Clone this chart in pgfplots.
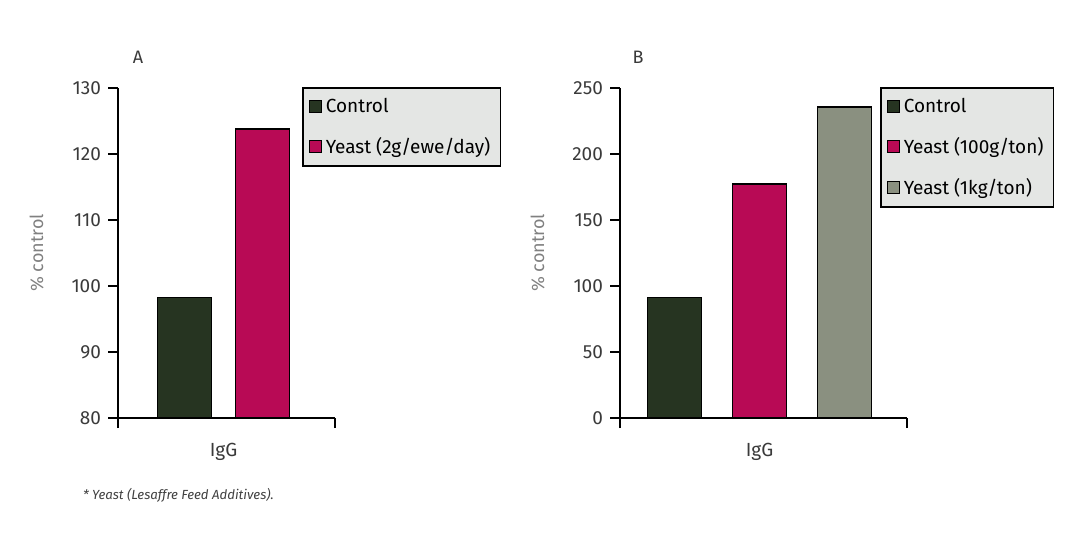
\documentclass[border=0pt]{standalone}
\usepackage{fontspec}
\setmainfont{Fira Sans}
\usepackage{pgfplots}
\pgfplotsset{compat=1.18}
\definecolor{ctrl}{HTML}{263421}
\definecolor{yst}{HTML}{B80A55}
\definecolor{ygray}{HTML}{8A9080}
\definecolor{legbg}{HTML}{E4E6E4}
\definecolor{tickc}{HTML}{3A3A3A}
\definecolor{labc}{HTML}{808080}
\pgfplotsset{
  panel/.style={
    scale only axis, height=165pt,
    axis lines*=left,
    axis line style={line width=0.9pt, black},
    tick align=outside, major tick length=5pt,
    tick style={line width=0.9pt, black},
    /pgf/number format/assume math mode=true,
    ticklabel style={font=\fontsize{9.5}{11}\selectfont, text=tickc},
    ylabel={\% control},
    ylabel shift=7pt,
    ylabel style={font=\fontsize{9}{11}\selectfont, text=labc},
    bar width=27pt,
    legend cell align=left,
    legend style={fill=legbg, draw=black, line width=0.75pt,
      font=\fontsize{9.5}{11}\selectfont, anchor=north west,
      inner xsep=3pt, inner ysep=3pt, row sep=7pt},
    every axis plot/.append style={draw=black, line width=0.6pt},
    extra x tick style={major tick length=0pt, tick label style={yshift=-9pt}},
    extra x tick labels={IgG},
  },
  sqlegend/.style={
    legend image code/.code={\draw[#1, draw=black, line width=0.5pt] (0pt,-3pt) rectangle (6pt,3pt);},
  },
}
\begin{document}
\begin{tikzpicture}
\path[use as bounding box] (0,0) rectangle (540pt,276.5pt);
% Panel A
\begin{axis}[panel, at={(59pt,67.5pt)}, anchor=south west,
  width=108.5pt,
  xmin=-108.5, xmax=108.5, ymin=80, ymax=130,
  ytick={80,90,100,110,120,130},
  xtick={-108.5,108.5}, xticklabels={,},
  extra x ticks={-3},
  ybar=12pt, sqlegend,
  legend style={at={(0.848,1.003)}},
]
\addplot[fill=ctrl] coordinates {(-3,98.2)};
\addplot[fill=yst] coordinates {(-3,123.8)};
\legend{Control, Yeast (2g/ewe/day)}
\end{axis}
% Panel B
\begin{axis}[panel, at={(310pt,67.5pt)}, anchor=south west,
  width=143.5pt,
  xmin=-143.5, xmax=143.5, ymin=0, ymax=250,
  ytick={0,50,100,150,200,250},
  xtick={-143.5,143.5}, xticklabels={,},
  extra x ticks={-4},
  ybar=15.5pt, sqlegend,
  legend style={at={(0.906,1.003)}},
]
\addplot[fill=ctrl] coordinates {(-4,91)};
\addplot[fill=yst] coordinates {(-4,177.3)};
\addplot[fill=ygray] coordinates {(-4,235.6)};
\legend{Control, Yeast (100g/ton), Yeast (1kg/ton)}
\end{axis}
\node[font=\fontsize{9}{11}\selectfont, text=tickc] at (69pt,248pt) {A};
\node[font=\fontsize{9}{11}\selectfont, text=tickc] at (319pt,248pt) {B};
\node[anchor=west, font=\itshape\fontsize{6.6}{8}\selectfont, text=darkgray] at (38pt,29pt) {* Yeast (Lesaffre Feed Additives).};
\end{tikzpicture}
\end{document}
